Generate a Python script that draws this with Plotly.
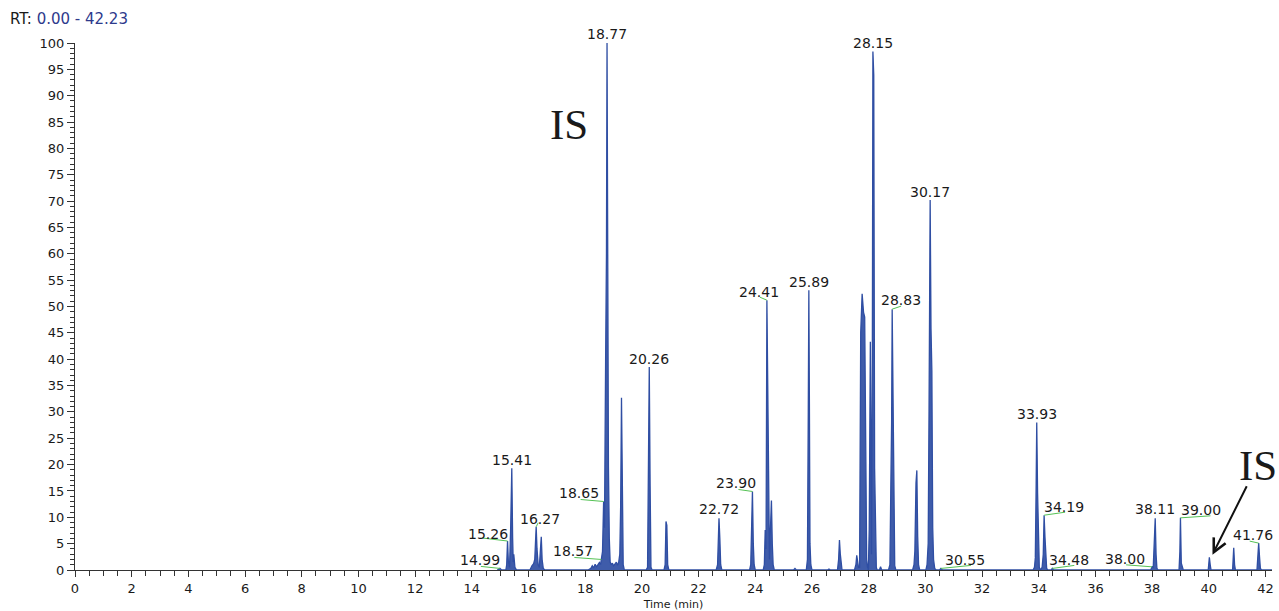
import plotly.graph_objects as go

# ---------------- data ----------------
rt_min = [
    14.90, 14.99, 15.05, 15.20, 15.23, 15.26, 15.29, 15.33, 15.37, 15.41, 15.44, 15.46, 15.48, 15.52, 15.58,
    16.05, 16.12, 16.18, 16.22, 16.25, 16.27, 16.30, 16.34, 16.38, 16.42, 16.45, 16.48, 16.52, 16.58,
    18.10, 18.20, 18.25, 18.30, 18.35, 18.40, 18.45, 18.50, 18.54, 18.57, 18.61, 18.65, 18.68, 18.72, 18.75,
    18.77, 18.79, 18.82, 18.85, 18.88, 18.92, 18.96, 19.00, 19.05, 19.10, 19.14, 19.18, 19.22, 19.25, 19.28,
    19.31, 19.34, 19.38,
    20.15, 20.20, 20.23, 20.26, 20.29, 20.32, 20.36,
    20.78, 20.82, 20.85, 20.88, 20.91, 20.95,
    22.62, 22.67, 22.70, 22.72, 22.75, 22.78, 22.82,
    23.80, 23.84, 23.87, 23.90, 23.93, 23.96, 24.00,
    24.28, 24.32, 24.35, 24.38, 24.41, 24.44, 24.47, 24.50, 24.53, 24.57, 24.60, 24.63, 24.67,
    25.35, 25.40, 25.45, 25.80, 25.84, 25.87, 25.89, 25.91, 25.93, 25.96, 26.00,
    26.55, 26.60, 26.65, 26.90, 26.94, 26.97, 27.00, 27.03, 27.06,
    27.50, 27.55, 27.58, 27.61, 27.64, 27.68, 27.72, 27.77, 27.82, 27.86, 27.90, 27.93, 27.96, 27.99,
    28.02, 28.06, 28.10, 28.13, 28.15, 28.18, 28.21, 28.24, 28.27, 28.30, 28.38, 28.42, 28.46,
    28.70, 28.75, 28.78, 28.81, 28.83, 28.86, 28.89, 28.92, 28.96,
    29.55, 29.60, 29.63, 29.67, 29.70, 29.73, 29.76, 29.80,
    30.02, 30.06, 30.10, 30.13, 30.17, 30.20, 30.23, 30.26, 30.29, 30.33, 30.38,
    30.50, 30.55, 30.60,
    33.80, 33.85, 33.88, 33.91, 33.93, 33.96, 33.99, 34.02, 34.06, 34.12, 34.16, 34.19, 34.22, 34.25, 34.28,
    34.32, 34.44, 34.48, 34.52,
    37.95, 38.00, 38.04, 38.08, 38.11, 38.14, 38.17, 38.21,
    38.95, 38.98, 39.00, 39.03, 39.06, 39.10,
    39.98, 40.02, 40.05, 40.08,
    40.84, 40.88, 40.91, 40.94,
    41.70, 41.73, 41.76, 41.79, 41.82, 41.86, 42.23,
]
rel_abundance = [
    0.0, 0.3, 0.0, 0.0, 1.0, 5.5, 1.5, 0.5, 8.0, 19.3, 6.0, 1.5, 3.0, 0.5, 0.0,
    0.0, 0.8, 1.2, 2.0, 6.5, 8.2, 4.0, 1.0, 0.5, 3.0, 6.3, 2.0, 0.3, 0.0,
    0.0, 0.3, 0.8, 0.4, 1.1, 0.6, 0.9, 1.4, 1.0, 2.0, 3.5, 13.0, 8.0, 39.5, 60.0,
    100.0, 45.0, 19.5, 6.0, 1.5, 1.0, 1.3, 0.8, 1.2, 1.5, 0.9, 1.4, 3.0, 12.0, 32.7,
    5.0, 1.0, 0.0,
    0.0, 0.5, 15.0, 38.5, 16.0, 0.5, 0.0,
    0.0, 1.0, 9.2, 8.5, 1.0, 0.0,
    0.0, 1.0, 5.0, 9.8, 6.0, 1.0, 0.0,
    0.0, 1.0, 8.0, 14.9, 5.0, 1.0, 0.0,
    0.0, 1.0, 7.6, 4.0, 51.2, 35.0, 6.0, 2.0, 7.0, 13.2, 5.0, 1.0, 0.0,
    0.0, 0.3, 0.0, 0.0, 2.0, 30.0, 53.1, 31.3, 5.0, 1.0, 0.0,
    0.0, 0.2, 0.0, 0.0, 2.0, 5.7, 3.0, 0.5, 0.0,
    0.0, 1.0, 2.8, 2.0, 0.5, 0.5, 45.0, 52.4, 48.9, 48.0, 24.0, 2.0, 0.5, 0.0,
    7.8, 43.3, 3.0, 40.0, 98.4, 93.9, 19.3, 3.0, 0.5, 0.0, 0.0, 0.6, 0.0,
    0.0, 1.0, 14.6, 28.0, 49.5, 28.3, 4.2, 0.8, 0.0,
    0.0, 1.0, 3.6, 16.5, 18.9, 6.4, 1.0, 0.0,
    0.0, 1.0, 5.0, 30.1, 70.2, 45.8, 37.8, 8.0, 2.0, 0.3, 0.0,
    0.0, 0.3, 0.0,
    0.0, 0.5, 2.3, 16.5, 28.0, 14.6, 3.0, 0.5, 0.0, 0.5, 3.0, 10.4, 6.3, 1.5, 0.3,
    0.0, 0.0, 0.3, 0.0,
    0.0, 0.6, 0.5, 5.4, 9.8, 3.0, 0.3, 0.0,
    0.0, 3.5, 9.9, 1.3, 0.5, 0.0,
    0.0, 2.4, 1.0, 0.0,
    0.0, 4.2, 1.0, 0.0,
    0.0, 2.5, 5.1, 2.5, 0.3, 0.0, 0.0,
]

# peak labels
label_text = ["14.99", "15.26", "15.41", "16.27", "18.57", "18.65", "18.77", "20.26", "22.72",
              "23.90", "24.41", "25.89", "28.15", "28.83", "30.17", "30.55", "33.93", "34.19",
              "34.48", "38.00", "38.11", "39.00", "41.76"]
label_rt = [14.99, 15.26, 15.41, 16.27, 18.57, 18.65, 18.77, 20.26, 22.72,
            23.90, 24.41, 25.89, 28.15, 28.83, 30.17, 30.55, 33.93, 34.19,
            34.48, 38.00, 38.11, 39.00, 41.76]
label_height = [0.3, 5.5, 19.3, 8.2, 2.0, 13.0, 100.0, 38.5, 9.8,
                14.9, 51.2, 53.1, 98.4, 49.5, 70.2, 0.3, 28.0, 10.4,
                0.3, 0.6, 9.8, 9.9, 5.1]

rt_range = [0.00, 42.23]
y_ticks = list(range(0, 101, 5))

# ---------------- layout / style ----------------
W, H = 1279, 611
M_L, M_R, M_T, M_B = 75, 7, 43, 41
plot_w = W - M_L - M_R
plot_h = H - M_T - M_B
px_per_min = plot_w / (rt_range[1] - rt_range[0])
px_per_unit = plot_h / 100.0

# text-centre offset from apex (screen px, +y = down)
label_dx = [-20, -20, 0, 4, -28, -25, 0, 0, 0, -16, -8, 0, 0, 9, 0, 24, 0, 20, 17, -27, 0, 21, -6]
label_dy = [-8, -7, -8, -8, -8, -8, -9, -8, -9, -8, -8, -8, -8, -9, -8, -8, -8, -8, -8, -8, -9, -8, -8]
# leader-line end offset from apex (None = no leader)
leader_dx = [-19, -25, None, 2, -27, -23, None, None, None, -14, -7, None, None, 9, None, 30, None, 21, 22, -26, None, 30, -9]
leader_dy = [-2, -3, None, -4, -2, -2, None, None, None, -2, -3, None, None, -3, None, -3, None, -3, -3, -2, None, -2, -2]

BLUE = "#2f4ea3"
GREEN = "#55c255"
FONT = "DejaVu Sans"

fig = go.Figure()
fig.add_trace(go.Scatter(
    x=rt_min, y=rel_abundance, mode="lines",
    line=dict(color=BLUE, width=1.3),
    fill="tozeroy", fillcolor="rgba(47,78,163,0.92)",
    hoverinfo="skip", showlegend=False,
))

lx, ly = [], []
for rt, h, dx, dy in zip(label_rt, label_height, leader_dx, leader_dy):
    if dx is None:
        continue
    lx += [rt, rt + dx / px_per_min, None]
    ly += [h, h - dy / px_per_unit, None]
fig.add_trace(go.Scatter(x=lx, y=ly, mode="lines", line=dict(color=GREEN, width=1),
                         hoverinfo="skip", showlegend=False, cliponaxis=False))

annotations = []
for txt, rt, h, dx, dy in zip(label_text, label_rt, label_height, label_dx, label_dy):
    annotations.append(dict(
        x=rt, y=h, xref="x", yref="y", text=txt, showarrow=False,
        xanchor="center", yanchor="middle", xshift=dx, yshift=-dy,
        font=dict(family=FONT, size=14, color="#1a1a1a"),
    ))

# "RT:" header
annotations.append(dict(
    x=(8 - M_L) / plot_w, y=1 + (M_T - 19) / plot_h, xref="paper", yref="paper",
    text="RT: <span style='color:#2e3a8c'>0.00 - 42.23</span>", showarrow=False,
    xanchor="left", yanchor="middle", font=dict(family=FONT, size=15, color="#1a1a1a"),
))

# IS markers
annotations.append(dict(
    x=17.42, y=84.5, xref="x", yref="y", text="IS", showarrow=False,
    xanchor="center", yanchor="middle",
    font=dict(family="Liberation Serif", size=43, color="#1a1a1a"),
))
annotations.append(dict(
    x=41.75, y=19.8, xref="x", yref="y", text="IS", showarrow=False,
    xanchor="center", yanchor="middle",
    font=dict(family="Liberation Serif", size=43, color="#1a1a1a"),
))
annotations.append(dict(
    x=40.13, y=2.9, xref="x", yref="y", text="", showarrow=True,
    ax=35, ay=-70, arrowhead=5, arrowsize=1.3, arrowwidth=2, arrowcolor="#111111",
))

fig.update_layout(
    width=W, height=H,
    margin=dict(l=M_L, r=M_R, t=M_T, b=M_B, autoexpand=False),
    paper_bgcolor="white", plot_bgcolor="white",
    font=dict(family=FONT, size=13, color="#1a1a1a"),
    annotations=annotations,
    showlegend=False,
)
fig.update_xaxes(
    range=rt_range, tick0=0, dtick=2, ticks="outside", ticklen=6, tickwidth=1,
    tickcolor="#333333", showline=True, linecolor="#333333", linewidth=1,
    showgrid=False, zeroline=False,
    minor=dict(dtick=0.5, ticks="outside", ticklen=5, tickcolor="#333333", showgrid=False),
    tickfont=dict(family=FONT, size=13, color="#1a1a1a"),
    title=dict(text="Time (min)", font=dict(family=FONT, size=11, color="#1a1a1a"), standoff=5),
)
fig.update_yaxes(
    range=[0, 100], tickvals=y_ticks, ticks="outside", ticklen=7, tickwidth=1,
    tickcolor="#333333", showline=True, linecolor="#333333", linewidth=1,
    showgrid=False, zeroline=False,
    minor=dict(dtick=1, ticks="outside", ticklen=4, tickcolor="#333333", showgrid=False),
    tickfont=dict(family=FONT, size=13, color="#1a1a1a"),
)

# remove the default page margin so the 1279x611 figure fills the window exactly
fig.write_html(
    "out.html",
    config={"displayModeBar": False},
    post_script="document.body.style.margin='0';document.body.style.overflow='hidden';",
)
